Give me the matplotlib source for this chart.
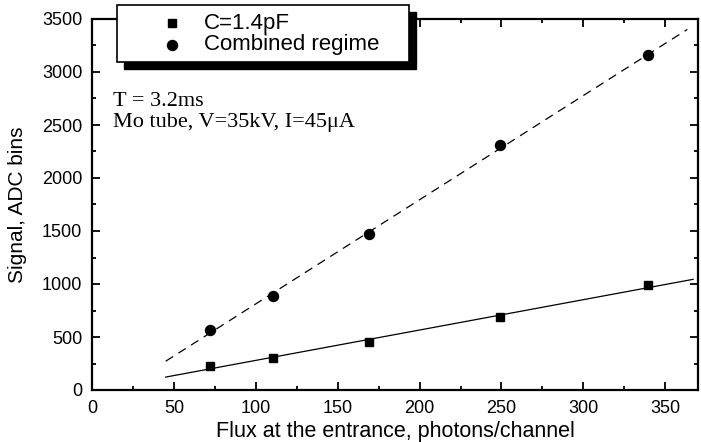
import numpy as np
import matplotlib
matplotlib.use("Agg")
import matplotlib.pyplot as plt
from matplotlib.patches import Rectangle
from matplotlib.lines import Line2D
from matplotlib.ticker import MultipleLocator

# Measured signal vs. incident flux
flux_c14 = [72, 110.6, 169, 249, 339.4]
signal_c14 = [226, 302, 456, 686, 987]
flux_comb = [72, 110.6, 169, 249.2, 339.4]
signal_comb = [563, 890, 1469, 2308, 3157]

fit_range_c14 = [45, 367]
fit_range_comb = [45, 363.5]

series_labels = ["C=1.4pF", "Combined regime"]
note_lines = ["T = 3.2ms", "Mo tube, V=35kV, I=45\u03bcA"]
x_title = "Flux at the entrance, photons/channel"
y_title = "Signal, ADC bins"

W, H = 701, 442
fig = plt.figure(figsize=(W / 100, H / 100), dpi=100)
ax = fig.add_axes([92 / W, 1 - 390 / H, (698 - 92) / W, (390 - 19) / H])

sans = ["Liberation Sans", "DejaVu Sans"]
serif = ["Liberation Serif", "DejaVu Serif"]


def fx(px):
    return px / W


def fy(py):
    return 1 - py / H


# Linear fits through the two data sets
p1 = np.polyfit(flux_c14, signal_c14, 1)
p2 = np.polyfit(flux_comb, signal_comb, 1)
xf1 = np.array(fit_range_c14)
xf2 = np.array(fit_range_comb)
ax.plot(xf1, np.polyval(p1, xf1), color="black", lw=0.9)
ax.plot(xf2, np.polyval(p2, xf2), color="black", lw=0.9, dashes=(7, 5))

ax.plot(flux_c14, signal_c14, ls="none", marker="s", ms=6.2, color="black")
ax.plot(flux_comb, signal_comb, ls="none", marker="o", ms=7.2, color="black")

ax.set_xlim(0, 370)
ax.set_ylim(0, 3500)
ax.xaxis.set_major_locator(MultipleLocator(50))
ax.xaxis.set_minor_locator(MultipleLocator(25))
ax.yaxis.set_major_locator(MultipleLocator(500))
ax.yaxis.set_minor_locator(MultipleLocator(250))
ax.tick_params(which="both", direction="in", top=True, right=True, width=1.3)
ax.tick_params(which="major", length=5.5, pad=7, labelsize=13)
ax.tick_params(which="minor", length=3)
for lab in ax.get_xticklabels() + ax.get_yticklabels():
    lab.set_family(sans)
for sp in ax.spines.values():
    sp.set_linewidth(1.6)

# Axis titles placed in figure pixels
fig.text(fx(395), fy(432), x_title, fontsize=15.5, family=sans,
         ha="center", va="center")
fig.text(fx(18), fy(205), y_title, fontsize=15, family=sans,
         ha="center", va="center", rotation=90)

# Annotation text block
fig.text(fx(113), fy(106), note_lines[0], fontsize=16, family=serif,
         ha="left", va="baseline")
fig.text(fx(113), fy(126.5), note_lines[1], fontsize=16, family=serif,
         ha="left", va="baseline")

# Boxed key with a solid drop shadow, overlapping the top frame
bx0, by0, bx1, by1 = 117, 5, 409, 62
off = 7
fig.patches.append(Rectangle((fx(bx0 + off), fy(by1 + off)), (bx1 - bx0) / W,
                             (by1 - by0) / H, transform=fig.transFigure,
                             facecolor="black", edgecolor="black", zorder=10))
fig.patches.append(Rectangle((fx(bx0), fy(by1)), (bx1 - bx0) / W,
                             (by1 - by0) / H, transform=fig.transFigure,
                             facecolor="white", edgecolor="black", lw=1.2,
                             zorder=11))
fig.lines.append(Line2D([fx(172)], [fy(23)], marker="s", ms=6.2, color="black",
                        transform=fig.transFigure, zorder=12))
fig.lines.append(Line2D([fx(172)], [fy(44.5)], marker="o", ms=7.2, color="black",
                        transform=fig.transFigure, zorder=12))
fig.text(fx(204), fy(23), series_labels[0], fontsize=16, family=sans,
         va="center", ha="left", zorder=13)
fig.text(fx(204), fy(44.5), series_labels[1], fontsize=16, family=sans,
         va="center", ha="left", zorder=13)

fig.savefig("out.png", dpi=100)
